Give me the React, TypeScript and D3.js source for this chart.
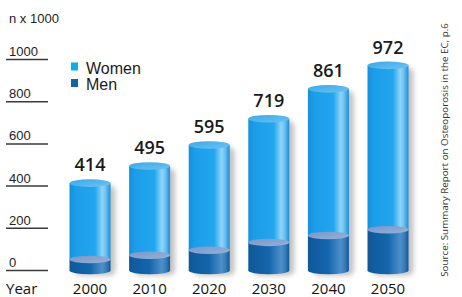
import React from 'react';
import {scaleLinear, scalePoint} from 'd3';

const years = ["2000", "2010", "2020", "2030", "2040", "2050"];
const totals = [414, 495, 595, 719, 861, 972];
const men = [52, 72, 96, 133, 166, 193];
const yTicks = [0, 200, 400, 600, 800, 1000];
const legendItems = ["Women", "Men"];
const legendColors = ["#0aaee8", "#0f66a6"];

const width = 462;
const height = 297;
const barW = 41;
const ry = 3.8;

const yScale = scaleLinear().domain([0, 1000]).range([270.5, 59.5]);
const xScale = scalePoint<string>().domain(years).range([60.2, 417.8]).padding(0.5);

const App = () => {
  return (
    <svg width={width} height={height} style={{position: "absolute", left: 0, top: 0, background: "#fff"}}>
      <defs>
        <linearGradient id="womenBody" x1="0" x2="1" y1="0" y2="0">
          <stop offset="0" stopColor="#1590dc" />
          <stop offset="0.15" stopColor="#1c9de8" />
          <stop offset="0.62" stopColor="#22a6ee" />
          <stop offset="0.8" stopColor="#8fd4f8" />
          <stop offset="0.88" stopColor="#6fc3f2" />
          <stop offset="1" stopColor="#1b8cd6" />
        </linearGradient>
        <linearGradient id="menBody" x1="0" x2="1" y1="0" y2="0">
          <stop offset="0" stopColor="#0e5898" />
          <stop offset="0.5" stopColor="#1466ac" />
          <stop offset="0.8" stopColor="#4d8fc9" />
          <stop offset="0.9" stopColor="#387cbb" />
          <stop offset="1" stopColor="#105797" />
        </linearGradient>
        <linearGradient id="womenTop" x1="0" x2="1" y1="0" y2="1">
          <stop offset="0" stopColor="#3aa8e8" />
          <stop offset="1" stopColor="#6ec3f1" />
        </linearGradient>
        <linearGradient id="menTop" x1="0" x2="1" y1="0" y2="1">
          <stop offset="0" stopColor="#7797c8" />
          <stop offset="1" stopColor="#94b2da" />
        </linearGradient>
        <filter id="blur" x="-50%" y="-20%" width="200%" height="140%">
          <feGaussianBlur stdDeviation="2.5" />
        </filter>
      </defs>

      {/* y axis */}
      <text x={9} y={23} fontFamily="Liberation Sans, Arial" fontSize={13} fill="#222">n x 1000</text>
      {yTicks.map(t => (
        <g key={t}>
          <line x1={6} x2={48} y1={yScale(t)} y2={yScale(t)} stroke="#3a3a3a" strokeWidth={1.5} />
          <text x={9} y={yScale(t) - 3.5} fontFamily="Liberation Sans, Arial" fontSize={13} fill="#222">{t}</text>
        </g>
      ))}

      {/* legend */}
      {legendItems.map((d, i) => (
        <g key={d}>
          <rect x={71} y={62.5 + i * 16.5} width={7} height={8} fill={legendColors[i]} />
          <text x={86} y={73.5 + i * 16.5} fontFamily="Liberation Sans, Arial" fontSize={16} fill="#1a1a1a">{d}</text>
        </g>
      ))}

      {/* cylinders */}
      {years.map((yr, i) => {
        const cx = xScale(yr) as number;
        const x0 = cx - barW / 2;
        const yTop = yScale(totals[i]);
        const yMen = yScale(men[i]);
        const yBase = yScale(0);
        return (
          <g key={yr}>
            <rect x={x0 + 5} y={yTop + 2} width={barW} height={yBase - yTop + 3} rx={6}
              fill="#7a7a7a" opacity={0.45} filter="url(#blur)" />
            <rect x={x0} y={yTop} width={barW} height={yMen - yTop} fill="url(#womenBody)" />
            <rect x={x0} y={yMen} width={barW} height={yBase - yMen} fill="url(#menBody)" />
            <ellipse cx={cx} cy={yBase} rx={barW / 2} ry={ry} fill="url(#menBody)" />
            <ellipse cx={cx} cy={yMen} rx={barW / 2} ry={ry} fill="url(#menTop)" />
            <ellipse cx={cx} cy={yTop} rx={barW / 2} ry={ry} fill="url(#womenTop)" />
            <text x={cx} y={yTop - ry - 8} textAnchor="middle" fontFamily="Open Sans" fontWeight={600}
              fontSize={18} fill="#1a1a1a">{totals[i]}</text>
            <text x={cx} y={294} textAnchor="middle" fontFamily="Open Sans" fontSize={15} fill="#111">{yr}</text>
          </g>
        );
      })}
      <text x={6} y={294} fontFamily="Open Sans" fontSize={15} fill="#111">Year</text>

      {/* source */}
      <text transform="translate(448,150) rotate(-90)" textAnchor="middle" fontFamily="Open Sans"
        fontSize={9.8} fill="#333">Source: Summary Report on Osteoporosis in the EC, p.6</text>
    </svg>
  );
};

export default App;
